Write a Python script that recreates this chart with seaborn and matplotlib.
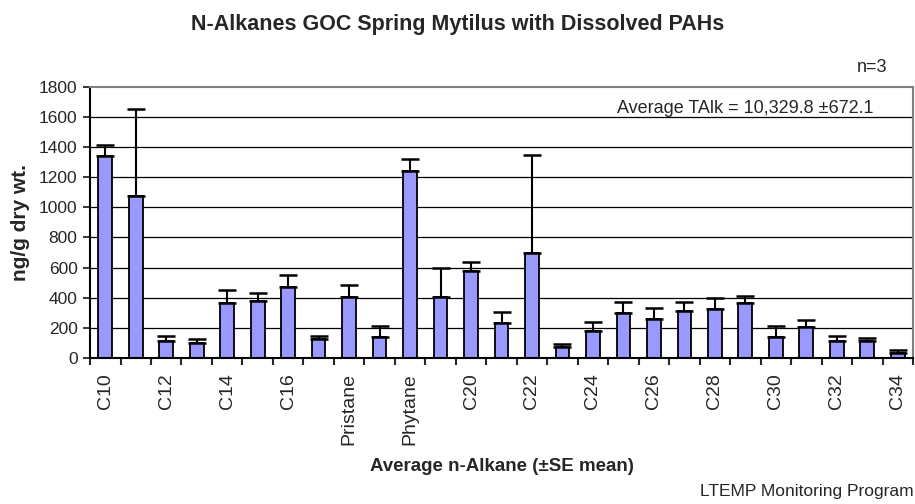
import matplotlib
matplotlib.use('Agg')
import matplotlib.pyplot as plt
import seaborn as sns
import pandas as pd
import numpy as np

alkanes = ['C10', 'C11', 'C12', 'C13', 'C14', 'C15', 'C16', 'C17', 'Pristane',
           'C18', 'Phytane', 'C19', 'C20', 'C21', 'C22', 'C23', 'C24', 'C25',
           'C26', 'C27', 'C28', 'C29', 'C30', 'C31', 'C32', 'C33', 'C34']
means = [1343, 1078, 110, 99, 364, 378, 470, 126, 404, 139, 1239, 404, 579,
         232, 696, 75, 181, 298, 258, 311, 325, 364, 139, 205, 113, 113, 35]
se = [70, 574, 34, 29, 84, 55, 82, 18, 82, 71, 82, 190, 55, 71, 653, 16, 55,
      71, 71, 58, 73, 45, 71, 45, 31, 17, 16]
shown_labels = ['C10', 'C12', 'C14', 'C16', 'Pristane', 'Phytane', 'C20', 'C22',
                'C24', 'C26', 'C28', 'C30', 'C32', 'C34']

df = pd.DataFrame({'alkane': alkanes, 'mean': means, 'se': se})

sns.set_style('white')
plt.rcParams['font.family'] = ['Liberation Sans', 'DejaVu Sans']

fig = plt.figure(figsize=(9.15, 5.04), dpi=100)
ax = fig.add_axes([0.0984, 0.2897, 0.8994, 0.5383])

# horizontal gridlines behind bars
for v in range(200, 1800, 200):
    ax.axhline(v, color='black', lw=0.9, zorder=0)

sns.barplot(data=df, x='alkane', y='mean', color='#9999FF', saturation=1,
            edgecolor='black', linewidth=1.3, width=0.45, ax=ax, zorder=2)

pos = np.arange(len(alkanes))
ax.errorbar(pos, df['mean'], yerr=[np.zeros(len(se)), df['se']], fmt='none',
            ecolor='black', elinewidth=1.5, capsize=6.5, capthick=1.8, zorder=3)

ax.set_xlim(-0.5, len(alkanes) - 0.5)
ax.set_ylim(0, 1800)
ax.set_yticks(range(0, 1801, 200))
ax.tick_params(axis='y', labelsize=12.5, length=5, width=1.3, direction='out',
               left=True, pad=4)

ax.set_xticks(pos[::2])
ax.set_xticklabels(shown_labels, rotation=90, fontsize=14)
ax.tick_params(axis='x', which='major', length=0, pad=11)
ax.set_xticks(np.arange(-0.5, len(alkanes), 1), minor=True)
ax.tick_params(axis='x', which='minor', length=5, width=1.5, direction='out',
               bottom=True)

for s in ['top', 'right']:
    ax.spines[s].set_color('#808080')
    ax.spines[s].set_linewidth(1.5)
for s in ['left', 'bottom']:
    ax.spines[s].set_color('black')
    ax.spines[s].set_linewidth(1.5)

ax.set_xlabel('Average n-Alkane (±SE mean)', fontsize=13.5, fontweight='bold')
ax.xaxis.set_label_coords(0.5, -0.37)
ax.set_ylabel('ng/g dry wt.', fontsize=15, fontweight='bold')
ax.yaxis.set_label_coords(-0.073, 0.5)

fig.text(0.5, 0.9405, 'N-Alkanes GOC Spring Mytilus with Dissolved PAHs',
         ha='center', va='baseline', fontsize=15.5, fontweight='bold')
fig.text(0.953, 0.857, 'n=3', ha='center', va='baseline', fontsize=13)
ax.text(0.9526, 0.903, 'Average TAlk = 10,329.8 ±672.1', transform=ax.transAxes,
        ha='right', va='baseline', fontsize=13)
fig.text(0.998, 0.016, 'LTEMP Monitoring Program', ha='right', va='baseline',
         fontsize=12.5)

fig.savefig('out.png', dpi=100)
